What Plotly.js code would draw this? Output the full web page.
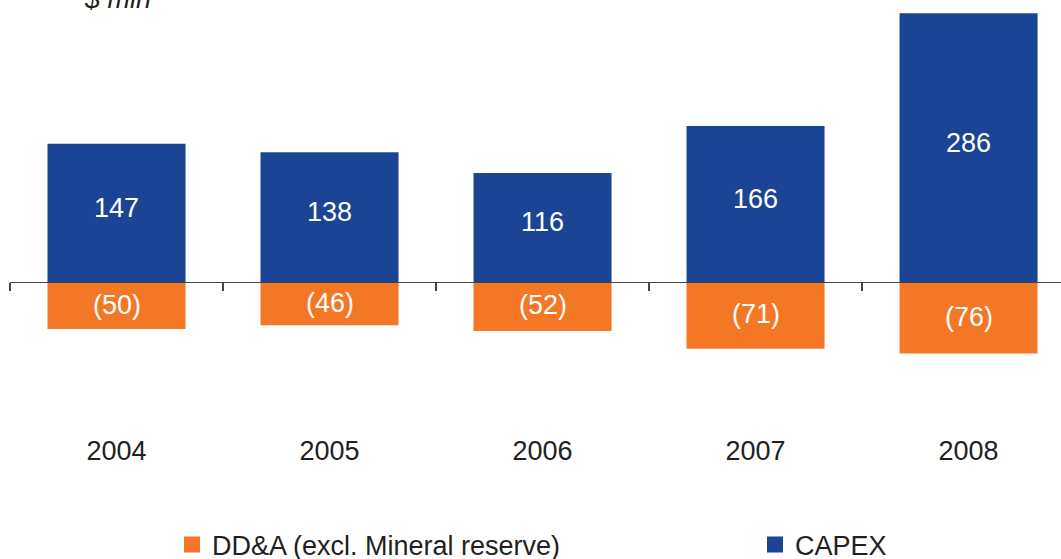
<!DOCTYPE html>
<html>
<head>
<meta charset="utf-8">
<script src="https://cdn.plot.ly/plotly-3.0.1.min.js"></script>
<style>html,body{margin:0;padding:0;background:#fff;}#chart{width:1061px;height:559px;}</style>
</head>
<body>
<div id="chart"></div>
<script>
const years = ['2004', '2005', '2006', '2007', '2008'];
const capexValues = [147, 138, 116, 166, 286];
const ddaValues = [-50, -46, -52, -71, -76];
const seriesNames = ['DD&A (excl. Mineral reserve)', 'CAPEX'];
const unitLabel = '$ mln';

const FONT = 'Liberation Sans, Arial, sans-serif';
const TXT = '#231F20';
const ORANGE = '#F47726', BLUE = '#1B4594';
const yMin = -155.3, yMax = 300;
const zeroFrac = (0 - yMin) / (yMax - yMin);
const idx = years.map((_, i) => i);

const traces = [
  {type: 'bar', name: seriesNames[0], x: years, y: ddaValues,
   marker: {color: ORANGE}, hoverinfo: 'skip', showlegend: false},
  {type: 'bar', name: seriesNames[1], x: years, y: capexValues,
   marker: {color: BLUE}, hoverinfo: 'skip', showlegend: false},
  // legend entries (square swatches)
  {type: 'scatter', name: seriesNames[0], x: [null], y: [null], mode: 'markers',
   marker: {symbol: 'square', size: 16, color: ORANGE}, legend: 'legend', hoverinfo: 'skip'},
  {type: 'scatter', name: seriesNames[1], x: [null], y: [null], mode: 'markers',
   marker: {symbol: 'square', size: 16, color: BLUE}, legend: 'legend2', hoverinfo: 'skip'},
  {type: 'scatter', x: [0], y: [0], xaxis: 'x2', yaxis: 'y', mode: 'markers',
   marker: {opacity: 0}, showlegend: false, hoverinfo: 'skip'}
];

const valueFont = {family: FONT, size: 27, color: '#ffffff'};
const annotations = [];
idx.forEach(i => {
  annotations.push({x: i, y: capexValues[i] / 2, xref: 'x', yref: 'y', text: String(capexValues[i]),
    showarrow: false, font: valueFont, yshift: 5, xanchor: 'center', yanchor: 'middle'});
  annotations.push({x: i, y: ddaValues[i] / 2, xref: 'x', yref: 'y', text: '(' + Math.abs(ddaValues[i]) + ')',
    showarrow: false, font: valueFont, yshift: 1, xanchor: 'center', yanchor: 'middle'});
});
annotations.push({
  text: '<i>' + unitLabel + '</i>', xref: 'paper', yref: 'paper',
  x: (117 - 10) / 1051, y: 1, xanchor: 'center', yanchor: 'middle', yshift: 1,
  showarrow: false, font: {family: FONT, size: 27, color: TXT}
});

const legendBase = {
  orientation: 'h', xref: 'container', yref: 'container',
  xanchor: 'left', y: 0.025, yanchor: 'middle',
  font: {family: FONT, size: 27, color: TXT},
  bgcolor: 'rgba(0,0,0,0)'
};

const layout = {
  width: 1061, height: 559,
  margin: {l: 10, r: 0, t: 0, b: 131},
  paper_bgcolor: '#ffffff', plot_bgcolor: '#ffffff',
  barmode: 'relative', bargap: 0.352,
  font: {family: FONT, color: TXT},
  xaxis: {
    type: 'category', range: [-0.5, 4.434], anchor: 'free', position: zeroFrac,
    showline: true, linecolor: '#444444', linewidth: 1.3,
    ticks: 'outside', tickson: 'boundaries', ticklen: 8, tickcolor: '#444444', tickwidth: 1.3,
    showticklabels: false, showgrid: false, zeroline: false, layer: 'above traces', fixedrange: true
  },
  xaxis2: {
    type: 'linear', overlaying: 'x', anchor: 'y', side: 'bottom', range: [-0.5, 4.434],
    tickmode: 'array', tickvals: idx, ticktext: years, ticklabelstandoff: 4,
    showline: false, ticks: '', showgrid: false, zeroline: false,
    tickfont: {family: FONT, size: 27, color: TXT}, fixedrange: true
  },
  yaxis: {
    range: [yMin, yMax], visible: false, showgrid: false, zeroline: false, fixedrange: true
  },
  showlegend: true,
  legend: Object.assign({}, legendBase, {x: 172 / 1061}),
  legend2: Object.assign({}, legendBase, {x: 755 / 1061}),
  annotations: annotations
};

Plotly.newPlot('chart', traces, layout, {displayModeBar: false, staticPlot: true});
</script>
</body>
</html>
